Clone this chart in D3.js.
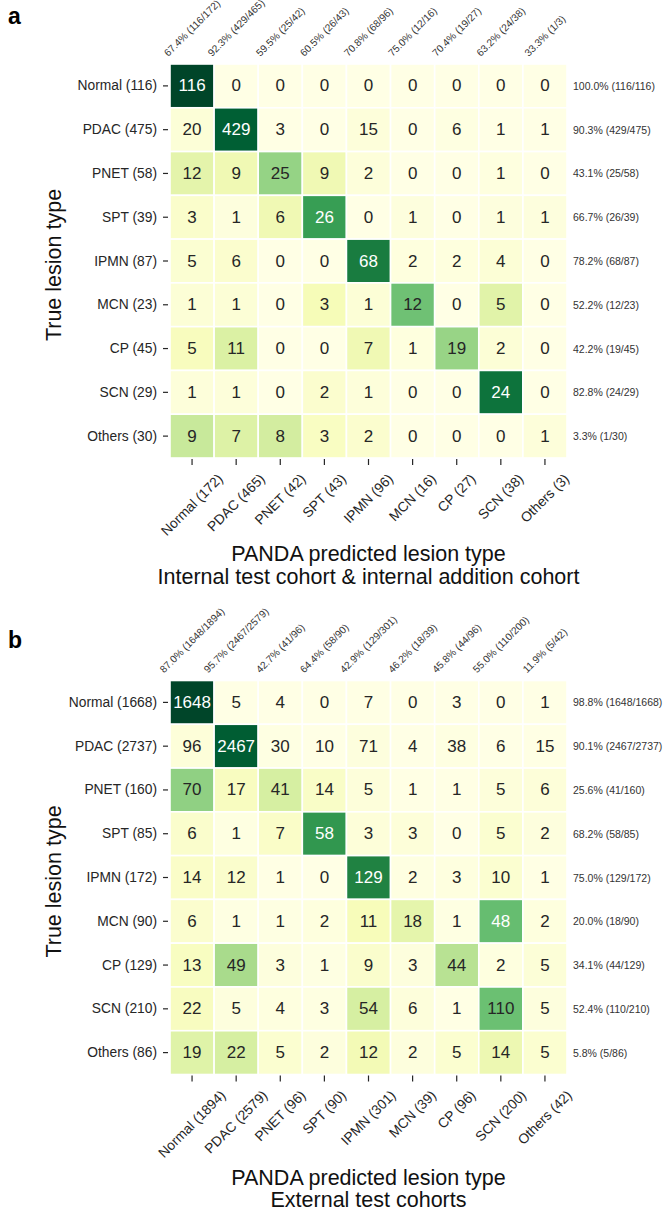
<html>
<head>
<script src="https://d3js.org/d3.v7.min.js"></script>
<style>
  body { margin: 0; background: #fff; }
  text { font-family: "Liberation Sans", Arial, sans-serif; }
</style>
</head>
<body>
<svg id="chart" width="666" height="1211"></svg>
<script>
// ---- panel a : internal test cohort & internal addition cohort ----
const trueLabelsA = ["Normal (116)", "PDAC (475)", "PNET (58)", "SPT (39)", "IPMN (87)", "MCN (23)", "CP (45)", "SCN (29)", "Others (30)"];
const predLabelsA = ["Normal (172)", "PDAC (465)", "PNET (42)", "SPT (43)", "IPMN (96)", "MCN (16)", "CP (27)", "SCN (38)", "Others (3)"];
const countsA = [
  [116, 0, 0, 0, 0, 0, 0, 0, 0],
  [20, 429, 3, 0, 15, 0, 6, 1, 1],
  [12, 9, 25, 9, 2, 0, 0, 1, 0],
  [3, 1, 6, 26, 0, 1, 0, 1, 1],
  [5, 6, 0, 0, 68, 2, 2, 4, 0],
  [1, 1, 0, 3, 1, 12, 0, 5, 0],
  [5, 11, 0, 0, 7, 1, 19, 2, 0],
  [1, 1, 0, 2, 1, 0, 0, 24, 0],
  [9, 7, 8, 3, 2, 0, 0, 0, 1]
];
const precisionA = ["67.4% (116/172)", "92.3% (429/465)", "59.5% (25/42)", "60.5% (26/43)", "70.8% (68/96)", "75.0% (12/16)", "70.4% (19/27)", "63.2% (24/38)", "33.3% (1/3)"];
const recallA = ["100.0% (116/116)", "90.3% (429/475)", "43.1% (25/58)", "66.7% (26/39)", "78.2% (68/87)", "52.2% (12/23)", "42.2% (19/45)", "82.8% (24/29)", "3.3% (1/30)"];

// ---- panel b : external test cohorts ----
const trueLabelsB = ["Normal (1668)", "PDAC (2737)", "PNET (160)", "SPT (85)", "IPMN (172)", "MCN (90)", "CP (129)", "SCN (210)", "Others (86)"];
const predLabelsB = ["Normal (1894)", "PDAC (2579)", "PNET (96)", "SPT (90)", "IPMN (301)", "MCN (39)", "CP (96)", "SCN (200)", "Others (42)"];
const countsB = [
  [1648, 5, 4, 0, 7, 0, 3, 0, 1],
  [96, 2467, 30, 10, 71, 4, 38, 6, 15],
  [70, 17, 41, 14, 5, 1, 1, 5, 6],
  [6, 1, 7, 58, 3, 3, 0, 5, 2],
  [14, 12, 1, 0, 129, 2, 3, 10, 1],
  [6, 1, 1, 2, 11, 18, 1, 48, 2],
  [13, 49, 3, 1, 9, 3, 44, 2, 5],
  [22, 5, 4, 3, 54, 6, 1, 110, 5],
  [19, 22, 5, 2, 12, 2, 5, 14, 5]
];
const precisionB = ["87.0% (1648/1894)", "95.7% (2467/2579)", "42.7% (41/96)", "64.4% (58/90)", "42.9% (129/301)", "46.2% (18/39)", "45.8% (44/96)", "55.0% (110/200)", "11.9% (5/42)"];
const recallB = ["98.8% (1648/1668)", "90.1% (2467/2737)", "25.6% (41/160)", "68.2% (58/85)", "75.0% (129/172)", "20.0% (18/90)", "34.1% (44/129)", "52.4% (110/210)", "5.8% (5/86)"];

// YlGn brewer stops (linear like matplotlib)
const ylgn = ["#ffffe5", "#f7fcb9", "#d9f0a3", "#addd8e", "#78c679", "#41ab5d", "#238443", "#006837", "#004529"];
const cmap = d3.scaleLinear().domain(d3.range(9).map(i => i / 8)).range(ylgn).interpolate(d3.interpolateRgb).clamp(true);

function luminance(c) {
  const rgb = d3.rgb(c);
  const lin = v => { v = v / 255; return v <= 0.03928 ? v / 12.92 : Math.pow((v + 0.055) / 1.055, 2.4); };
  return 0.2126 * lin(rgb.r) + 0.7152 * lin(rgb.g) + 0.0722 * lin(rgb.b);
}

const svg = d3.select("#chart");
const left = 170, gridW = 397, gridH = 394;
const ink = "#262626";

function drawPanel(p) {
  const g = svg.append("g");
  const n = p.counts.length;
  const x = d3.scaleBand().domain(d3.range(n)).range([left, left + gridW]);
  const y = d3.scaleBand().domain(d3.range(n)).range([p.top, p.top + gridH]);
  const bottom = p.top + gridH;

  // row-normalised values, colour scaled to [0, max]
  const norm = p.counts.map(r => { const s = d3.sum(r); return r.map(v => v / s); });
  const vmax = d3.max(norm.flat());
  const colorOf = v => {
    const idx = Math.min(255, Math.floor(v / vmax * 256));
    return cmap(idx / 255);
  };
  const cells = [];
  p.counts.forEach((row, i) => row.forEach((v, j) => cells.push({ i, j, v, f: norm[i][j] })));

  g.selectAll("rect.cell").data(cells).join("rect")
    .attr("class", "cell")
    .attr("x", d => x(d.j)).attr("y", d => y(d.i))
    .attr("width", x.bandwidth()).attr("height", y.bandwidth())
    .attr("fill", d => colorOf(d.f))
    .attr("stroke", "#fff").attr("stroke-width", 1.6);

  g.selectAll("text.val").data(cells).join("text")
    .attr("class", "val")
    .attr("x", d => x(d.j) + x.bandwidth() / 2)
    .attr("y", d => y(d.i) + y.bandwidth() / 2)
    .attr("text-anchor", "middle").attr("dominant-baseline", "central")
    .attr("font-size", 17)
    .attr("fill", d => luminance(colorOf(d.f)) > 0.408 ? ink : "#fff")
    .text(d => d.v);

  // y ticks
  g.selectAll("line.yt").data(d3.range(n)).join("line")
    .attr("x1", left - 7).attr("x2", left - 2)
    .attr("y1", i => y(i) + y.bandwidth() / 2).attr("y2", i => y(i) + y.bandwidth() / 2)
    .attr("stroke", ink).attr("stroke-width", 1.2);
  g.selectAll("text.yl").data(p.trueLabels).join("text")
    .attr("x", left - 13)
    .attr("y", (d, i) => y(i) + y.bandwidth() / 2)
    .attr("text-anchor", "end").attr("dominant-baseline", "central")
    .attr("font-size", 13.8).attr("fill", ink)
    .text(d => d);

  // x ticks
  g.selectAll("line.xt").data(d3.range(n)).join("line")
    .attr("x1", j => x(j) + x.bandwidth() / 2).attr("x2", j => x(j) + x.bandwidth() / 2)
    .attr("y1", bottom + 1).attr("y2", bottom + 7)
    .attr("stroke", ink).attr("stroke-width", 1.2);
  const h45 = Math.SQRT1_2;
  g.selectAll("text.xl").data(p.predLabels).join("text")
    .attr("text-anchor", "middle").attr("dominant-baseline", "central")
    .attr("font-size", 13.8).attr("fill", ink)
    .text(d => d)
    .each(function (d, j) {
      const L = this.getComputedTextLength(), hgt = 15.5;
      const cx = x(j) + x.bandwidth() / 2;
      const cy = bottom + 13 + (L + hgt) * h45 / 2;
      d3.select(this).attr("transform", `translate(${cx},${cy}) rotate(-45)`);
    });

  // precision labels on top
  g.selectAll("text.prec").data(p.precision).join("text")
    .attr("text-anchor", "middle").attr("dominant-baseline", "central")
    .attr("font-size", 10.2).attr("fill", "#333")
    .text(d => d)
    .each(function (d, j) {
      const L = this.getComputedTextLength(), hgt = 10;
      const cx = x(j) + x.bandwidth() / 2;
      const cy = p.top - 6 - (L + hgt) * h45 / 2;
      d3.select(this).attr("transform", `translate(${cx},${cy}) rotate(-45)`);
    });

  // recall labels on the right
  g.selectAll("text.rec").data(p.recall).join("text")
    .attr("x", left + gridW + 6)
    .attr("y", (d, i) => y(i) + y.bandwidth() / 2)
    .attr("dominant-baseline", "central")
    .attr("font-size", 10.5).attr("fill", "#333")
    .text(d => d);

  // axis titles
  g.append("text")
    .attr("transform", `translate(61,${p.top + gridH / 2 + 4}) rotate(-90)`)
    .attr("text-anchor", "middle").attr("font-size", 21.5).attr("fill", "#111")
    .text("True lesion type");
  p.xTitle.forEach((t, k) => {
    g.append("text")
      .attr("x", left + gridW / 2).attr("y", p.titleY[k])
      .attr("text-anchor", "middle").attr("font-size", 21.5).attr("fill", "#111")
      .text(t);
  });

  // panel letter
  g.append("text").attr("x", 8).attr("y", p.letterY)
    .attr("font-size", 23).attr("font-weight", "bold").attr("fill", "#000")
    .text(p.letter);
}

drawPanel({
  letter: "a", letterY: 24, top: 64,
  counts: countsA, trueLabels: trueLabelsA, predLabels: predLabelsA,
  precision: precisionA, recall: recallA,
  xTitle: ["PANDA predicted lesion type", "Internal test cohort & internal addition cohort"],
  titleY: [561, 584]
});
drawPanel({
  letter: "b", letterY: 648, top: 680.5,
  counts: countsB, trueLabels: trueLabelsB, predLabels: predLabelsB,
  precision: precisionB, recall: recallB,
  xTitle: ["PANDA predicted lesion type", "External test cohorts"],
  titleY: [1185, 1207]
});
</script>
</body>
</html>
